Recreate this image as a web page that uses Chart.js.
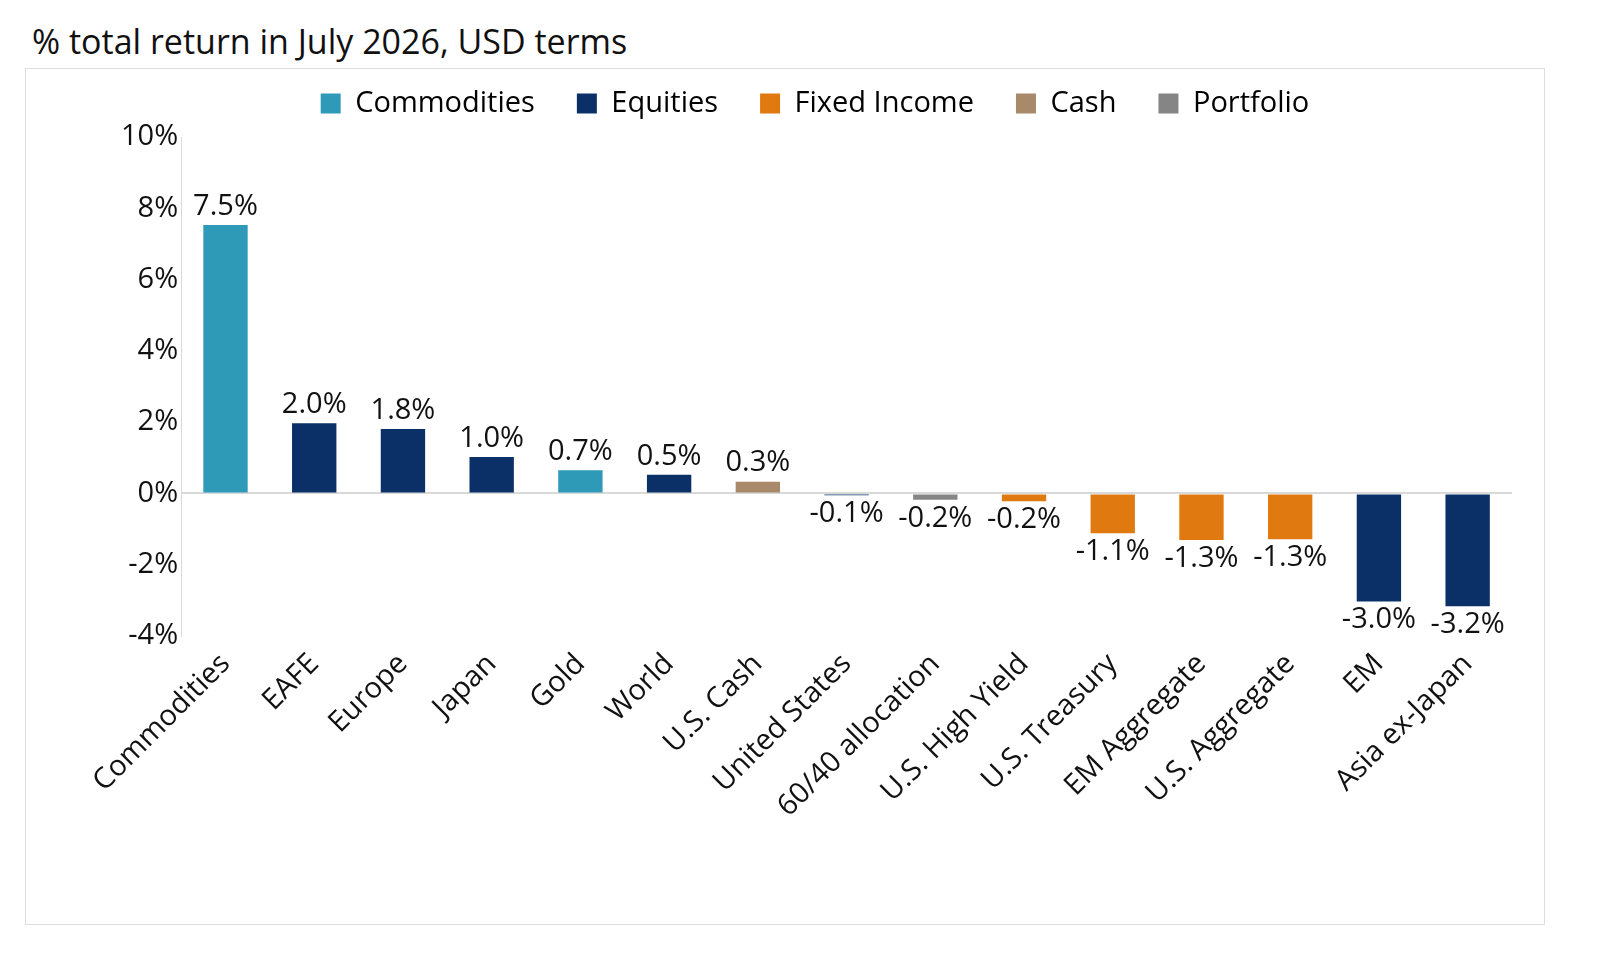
<!DOCTYPE html>
<html>
<head>
<meta charset="utf-8">
<script src="https://cdn.jsdelivr.net/npm/chart.js@4"></script>
<style>
  body { margin: 0; background: #fff; font-family: "Open Sans", sans-serif; overflow: hidden; }
  #title { position: absolute; left: 32px; top: 18px; font-size: 34px; color: #111; }
  #box { position: absolute; left: 25px; top: 68px; width: 1520px; height: 857px; border: 1px solid #ddd; box-sizing: border-box; }
</style>
</head>
<body>
<div id="title">% total return in July 2026, USD terms</div>
<div id="box"><canvas id="chart"></canvas></div>
<script>
// categories and values
var categories = ['Commodities', 'EAFE', 'Europe', 'Japan', 'Gold', 'World', 'U.S. Cash', 'United States',
  '60/40 allocation', 'U.S. High Yield', 'U.S. Treasury', 'EM Aggregate', 'U.S. Aggregate', 'EM', 'Asia ex-Japan'];
var returns = [7.53, 1.97, 1.81, 1.02, 0.65, 0.52, 0.33, -0.05, -0.18, -0.22, -1.12, -1.31, -1.29, -3.03, -3.17];
var valueLabels = ['7.5%', '2.0%', '1.8%', '1.0%', '0.7%', '0.5%', '0.3%', '-0.1%', '-0.2%', '-0.2%',
  '-1.1%', '-1.3%', '-1.3%', '-3.0%', '-3.2%'];
var assetClass = ['Commodities', 'Equities', 'Equities', 'Equities', 'Commodities', 'Equities', 'Cash', 'Equities',
  'Portfolio', 'Fixed Income', 'Fixed Income', 'Fixed Income', 'Fixed Income', 'Equities', 'Equities'];
var groups = ['Commodities', 'Equities', 'Fixed Income', 'Cash', 'Portfolio'];
var groupColors = { 'Commodities': '#2E9AB8', 'Equities': '#0B3068', 'Fixed Income': '#E07A10', 'Cash': '#A8896A', 'Portfolio': '#858585' };

var FONT = '"Open Sans", sans-serif';

var valueLabelPlugin = {
  id: 'valueLabels',
  afterDatasetsDraw: function (chart) {
    var ctx = chart.ctx;
    var meta = chart.getDatasetMeta(0);
    ctx.save();
    ctx.font = '29px ' + FONT;
    ctx.fillStyle = '#111';
    ctx.textAlign = 'center';
    meta.data.forEach(function (bar, i) {
      var base = chart.scales.y.getPixelForValue(0);
      if (returns[i] >= 0) {
        ctx.textBaseline = 'bottom';
        ctx.fillText(valueLabels[i], bar.x, bar.y - 4);
      } else {
        ctx.textBaseline = 'top';
        ctx.fillText(valueLabels[i], bar.x, Math.max(bar.y, base) + 4);
      }
    });
    ctx.restore();
  }
};

// a little more space under the legend
var legendGap = {
  id: 'legendGap',
  beforeInit: function (chart) {
    var fit = chart.legend.fit;
    chart.legend.fit = function () {
      fit.bind(chart.legend)();
      this.height += 9;
    };
  }
};

new Chart(document.getElementById('chart'), {
  type: 'bar',
  data: {
    labels: categories,
    datasets: [{
      data: returns,
      backgroundColor: assetClass.map(function (g) { return groupColors[g]; }),
      barPercentage: 0.5,
      categoryPercentage: 1
    }]
  },
  options: {
    responsive: true,
    maintainAspectRatio: false,
    animation: false,
    layout: { padding: { top: -22, right: 32, bottom: 97, left: 92 } },
    plugins: {
      tooltip: { enabled: false },
      legend: {
        position: 'top',
        labels: {
          font: { family: FONT, size: 29 },
          color: '#111',
          boxWidth: 20,
          boxHeight: 20,
          padding: 42,
          generateLabels: function () {
            return groups.map(function (g) {
              return { text: g, fillStyle: groupColors[g], strokeStyle: groupColors[g], lineWidth: 0 };
            });
          }
        },
        onClick: null
      }
    },
    scales: {
      x: {
        grid: { display: false },
        border: { display: false },
        ticks: { font: { family: FONT, size: 29 }, color: '#111', maxRotation: 45, minRotation: 45, autoSkip: false }
      },
      y: {
        min: -4,
        max: 10,
        ticks: { stepSize: 2, font: { family: FONT, size: 29 }, color: '#111', callback: function (v) { return v + '%'; } },
        grid: {
          color: function (c) { return c.tick.value === 0 ? '#d9d9d9' : 'transparent'; },
          lineWidth: 2,
          drawTicks: false
        },
        border: { color: '#d9d9d9' }
      }
    }
  },
  plugins: [valueLabelPlugin, legendGap]
});
</script>
</body>
</html>
